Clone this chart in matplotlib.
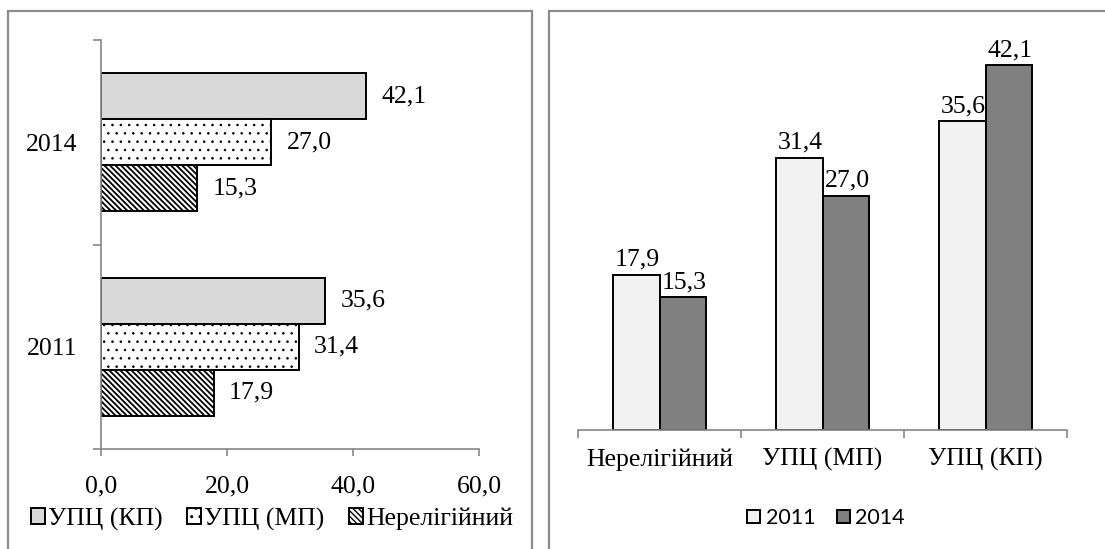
import matplotlib
matplotlib.use("Agg")
import matplotlib.pyplot as plt
from matplotlib.patches import Rectangle
import numpy as np

# ---- data ----
years = ["2011", "2014"]
groups = ["Нерелігійний", "УПЦ (МП)", "УПЦ (КП)"]
vals_2011 = [17.9, 31.4, 35.6]
vals_2014 = [15.3, 27.0, 42.1]
x_ticks = [0, 20, 40, 60]

def fmt(v):
    return f"{v:.1f}".replace(".", ",")

SERIF = "Liberation Serif"
SANS = "Lato"
FS = 18.5
GRAY = "#868686"

fig = plt.figure(figsize=(11.05, 5.49), dpi=100)
W, H = 1105, 549

# panel frames
fig.patches.append(Rectangle((8 / W, -0.05), (532 - 8) / W, 1 - 11 / H + 0.05,
                             transform=fig.transFigure, fill=False,
                             edgecolor="#8c8c8c", linewidth=1.6))
fig.patches.append(Rectangle((549 / W, -0.05), (1120 - 549) / W, 1 - 11 / H + 0.05,
                             transform=fig.transFigure, fill=False,
                             edgecolor="#8c8c8c", linewidth=1.6))

# ---------------- left: horizontal bars ----------------
axl = fig.add_axes([101 / W, 1 - 449 / H, 378 / W, 409 / H])
h = 0.225
ypos = np.arange(len(years))
styles = {
    "УПЦ (КП)": dict(color="#d9d9d9", hatch=None, hlw=1.0),
    "УПЦ (МП)": dict(color="white", hatch="..", hlw=0.6),
    "Нерелігійний": dict(color="white", hatch="\\" * 6, hlw=1.3),
}
series = {g: [vals_2011[i], vals_2014[i]] for i, g in enumerate(groups)}
offsets = {"Нерелігійний": -h, "УПЦ (МП)": 0.0, "УПЦ (КП)": h}
order = ["УПЦ (КП)", "УПЦ (МП)", "Нерелігійний"]
handles = {}
for g in order:
    st = styles[g]
    with plt.rc_context({"hatch.linewidth": st["hlw"]}):
        bars = axl.barh(ypos + offsets[g], series[g], height=h, color=st["color"],
                        hatch=st["hatch"], edgecolor="black", linewidth=1.4, label=g)
    handles[g] = bars
    for b, v in zip(bars, series[g]):
        axl.annotate(fmt(v), (b.get_width(), b.get_y() + b.get_height() / 2),
                     xytext=(11, 0), textcoords="offset points", ha="left",
                     va="center", fontsize=FS, family=SERIF)
axl.set_xlim(0, 60)
axl.set_ylim(-0.5, 1.5)
axl.set_xticks(x_ticks)
axl.set_xticklabels([fmt(t) for t in x_ticks], fontsize=FS, family=SERIF)
axl.set_yticks(ypos)
axl.set_yticklabels(years, fontsize=FS, family=SERIF)
axl.set_yticks([-0.5, 0.5, 1.5], minor=True)
axl.tick_params(axis="y", which="major", length=0, pad=17)
axl.tick_params(axis="y", which="minor", length=6, color=GRAY, width=1.2, direction="out")
axl.tick_params(axis="x", which="major", length=5, color=GRAY, width=1.2, pad=14)
for s in ["top", "right"]:
    axl.spines[s].set_visible(False)
for s in ["left", "bottom"]:
    axl.spines[s].set_color(GRAY)
    axl.spines[s].set_linewidth(1.2)

fig.legend([handles[g] for g in order], order,
           loc="center", bbox_to_anchor=(272 / W, 1 - 519 / H), ncol=3,
           frameon=False, prop={"family": SERIF, "size": FS},
           handlelength=0.55, handleheight=0.55, handletextpad=0.12,
           columnspacing=0.95, borderpad=0)

# ---------------- right: vertical bars ----------------
axr = fig.add_axes([578 / W, 1 - 430 / H, 489 / W, 390 / H])
w = 0.288
xpos = np.arange(len(groups))
b1 = axr.bar(xpos - w / 2, vals_2011, width=w, color="#f2f2f2", edgecolor="black",
             linewidth=1.4, label=years[0])
b2 = axr.bar(xpos + w / 2, vals_2014, width=w, color="#808080", edgecolor="black",
             linewidth=1.4, label=years[1])
for bars, vals in [(b1, vals_2011), (b2, vals_2014)]:
    for b, v in zip(bars, vals):
        axr.annotate(fmt(v), (b.get_x() + b.get_width() / 2, b.get_height()),
                     xytext=(1, 3), textcoords="offset points", ha="center",
                     va="bottom", fontsize=FS, family=SERIF)
axr.set_xlim(-0.5, 2.5)
axr.set_ylim(0, 45)
axr.set_xticks(xpos)
axr.set_xticklabels(groups, fontsize=FS, family=SERIF)
axr.set_xticks([-0.5, 0.5, 1.5, 2.5], minor=True)
axr.tick_params(axis="x", which="major", length=0, pad=13)
axr.tick_params(axis="x", which="minor", length=6, color=GRAY, width=1.2)
axr.set_yticks([])
for s in ["top", "right", "left"]:
    axr.spines[s].set_visible(False)
axr.spines["bottom"].set_color(GRAY)
axr.spines["bottom"].set_linewidth(1.2)

fig.legend([b1, b2], years, loc="center", bbox_to_anchor=(826 / W, 1 - 518 / H),
           ncol=2, frameon=False, prop={"family": SANS, "size": 15.5},
           handlelength=0.6, handleheight=0.6, handletextpad=0.25,
           columnspacing=1.0, borderpad=0)

fig.savefig("out.png", dpi=100)
